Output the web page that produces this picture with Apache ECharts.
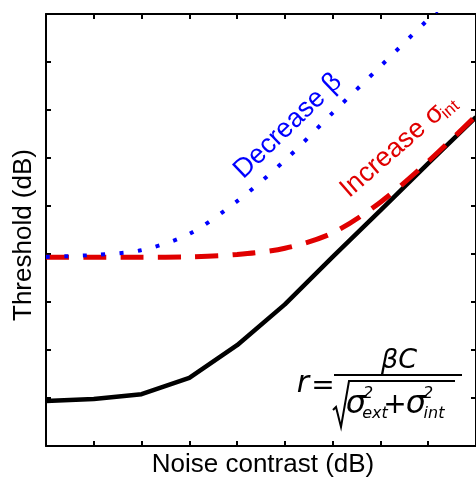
<!DOCTYPE html>
<html>
<head>
<meta charset="utf-8">
<script src="https://cdn.jsdelivr.net/npm/echarts@6/dist/echarts.min.js"></script>
<style>
html,body{margin:0;padding:0;background:#fff;}
#chart{width:476px;height:478px;}
</style>
</head>
<body>
<div id="chart"></div>
<script>
// ---- data ----
const noiseContrast = [0, 1, 2, 3, 4, 5, 6, 7, 8, 9];
const baselineThreshold = [0.94, 0.98, 1.08, 1.42, 2.10, 2.95, 3.94, 4.91, 5.89, 6.85];
const increaseSigmaInt = [3.93, 3.93, 3.93, 3.94, 3.99, 4.12, 4.44, 5.08, 5.93, 6.88];
const decreaseBeta = [3.94, 3.98, 4.08, 4.42, 5.10, 5.95, 6.94, 7.91, 8.89, 9.85];
const xTitle = 'Noise contrast (dB)';
const yTitle = 'Threshold (dB)';
const labelBeta = 'Decrease β';
const labelSigma = 'Increase σ';
const labelSigmaSub = 'int';

function pairs(ys) { return noiseContrast.map((x, i) => [x, ys[i]]); }

const chart = echarts.init(document.getElementById('chart'), null, {renderer: 'canvas'});

const axisCommon = {
  type: 'value', min: 0, max: 9, interval: 1,
  axisLine: {show: true, onZero: false, lineStyle: {color: '#000', width: 2}},
  axisTick: {show: true, inside: true, length: 5, lineStyle: {color: '#000', width: 2}},
  axisLabel: {show: false},
  splitLine: {show: false}
};

const mainFont = '"Liberation Sans", Arial, Helvetica, sans-serif';
const mathFont = '"DejaVu Sans", sans-serif';
const d2r = Math.PI / 180;

function t(text, x, y, size, opts) {
  opts = opts || {};
  return {
    type: 'text', x: x, y: y, rotation: opts.rotation || 0, z: 100,
    style: {
      text: text,
      font: (opts.italic ? 'italic ' : '') + size + 'px ' + (opts.family || mathFont),
      fill: opts.color || '#000',
      align: opts.align || 'center', verticalAlign: 'middle',
      textAlign: opts.align || 'center', textVerticalAlign: 'middle'
    }
  };
}

const option = {
  backgroundColor: '#fff',
  animation: false,
  grid: {left: 46, top: 14, right: -4, bottom: 32, containLabel: false},
  xAxis: [
    Object.assign({}, axisCommon, {position: 'bottom'}),
    Object.assign({}, axisCommon, {position: 'top'})
  ],
  yAxis: [
    Object.assign({}, axisCommon, {position: 'left'}),
    Object.assign({}, axisCommon, {position: 'right'})
  ],
  series: [
    {
      type: 'line', data: pairs(baselineThreshold), showSymbol: false, symbol: 'none',
      lineStyle: {color: '#000', width: 4.5}, clip: true, z: 2
    },
    {
      type: 'line', data: pairs(increaseSigmaInt), showSymbol: false, symbol: 'none', smooth: 0.3,
      lineStyle: {color: '#e00000', width: 5, type: [23, 14.3], cap: 'butt'}, clip: true, z: 3
    },
    {
      type: 'line', data: pairs(decreaseBeta), showSymbol: false, symbol: 'none', smooth: 0.3,
      lineStyle: {color: '#0000ff', width: 4, type: [4, 14.4], cap: 'butt'}, clip: true, z: 4
    }
  ],
  graphic: [
    // axis titles
    t(xTitle, 263, 465, 26, {family: mainFont}),
    t(yTitle, 24, 235, 26, {family: mainFont, rotation: 90 * d2r}),
    // curve labels
    t(labelBeta, 288, 126, 27, {family: mainFont, color: '#0000ff', rotation: 44 * d2r}),
    {
      type: 'group', x: 344, y: 193, rotation: 41 * d2r, z: 100,
      children: [
        {type: 'text', x: 0, y: 0, style: {text: labelSigma, font: '27px ' + mainFont, fill: '#e00000', align: 'left', verticalAlign: 'middle', textAlign: 'left', textVerticalAlign: 'middle'}},
        {type: 'text', x: 126, y: 7, style: {text: labelSigmaSub, font: '17px ' + mainFont, fill: '#e00000', align: 'left', verticalAlign: 'middle', textAlign: 'left', textVerticalAlign: 'middle'}}
      ]
    },
    // formula r = βC / sqrt(σ_ext^2 + σ_int^2)
    t('βC', 399, 361, 27, {italic: true}),
    {type: 'line', z: 100, shape: {x1: 334, y1: 375, x2: 462, y2: 375}, style: {stroke: '#000', lineWidth: 2}},
    t('r', 303, 384, 30, {italic: true}),
    t('=', 323, 387, 28),
    {type: 'polyline', z: 100, shape: {points: [[333, 410], [336, 407], [341, 427], [349, 381], [455, 381]]}, style: {stroke: '#000', lineWidth: 2, fill: null}},
    t('σ', 356, 405, 32, {italic: true}),
    t('2', 368, 394, 16, {italic: true}),
    t('ext', 375, 414, 16, {italic: true}),
    t('+', 395, 406, 28),
    t('σ', 416, 405, 32, {italic: true}),
    t('2', 428, 394, 16, {italic: true}),
    t('int', 434, 414, 16, {italic: true})
  ]
};
chart.setOption(option);
</script>
</body>
</html>
